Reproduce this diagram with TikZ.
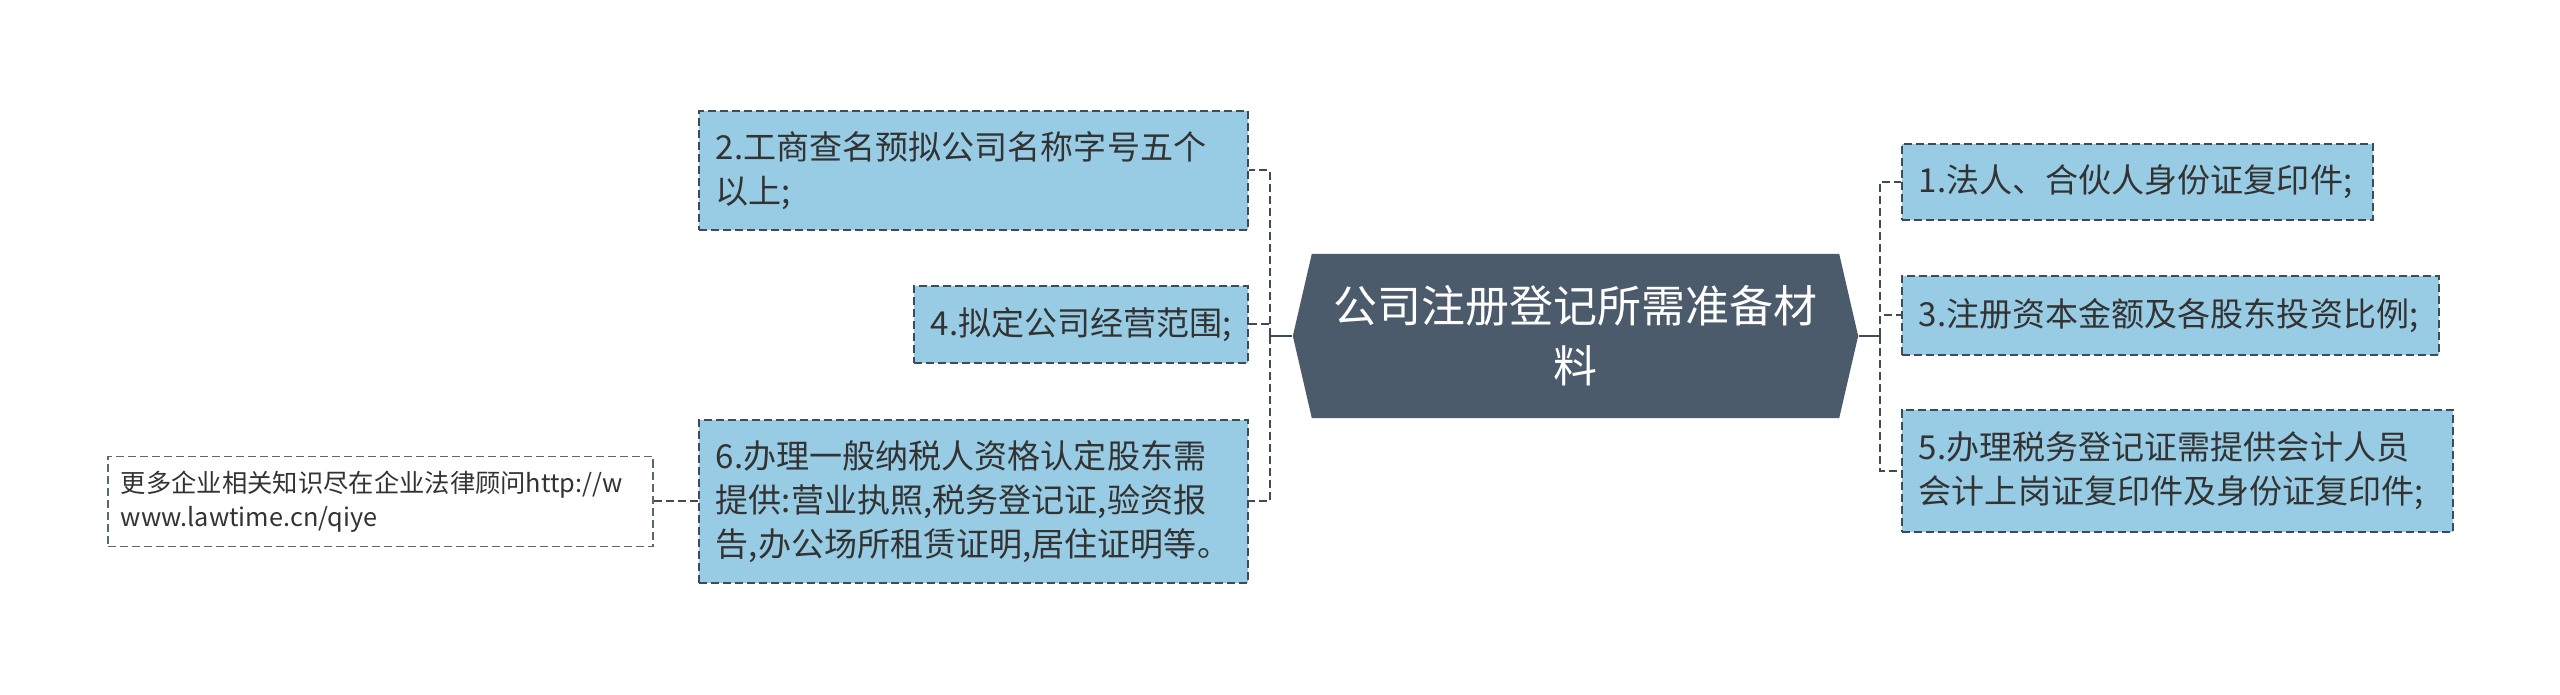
\documentclass[tikz,border=0pt]{standalone}
\usepackage{fontspec}
\setmainfont{Noto Sans CJK SC}
\usetikzlibrary{shapes.symbols}
\definecolor{topicblue}{HTML}{98CCE4}
\definecolor{rootgray}{HTML}{4B5B6B}
\definecolor{edgegray}{HTML}{3F4C58}
\definecolor{txtgray}{HTML}{333333}

\tikzset{every picture/.style={line width=0.02cm}}

\begin{document}
\begin{tikzpicture}[x=0.01cm,y=-0.01cm,
    topic/.style={draw=edgegray,fill=topicblue,dash pattern=on 0.08cm off 0.04cm,
      text=txtgray,align=left,inner xsep=0.17cm,inner ysep=0pt,
      font=\fontsize{9.4}{12.6}\selectfont},
    hint/.style={draw=edgegray!85,line width=0.015cm,dash pattern=on 0.08cm off 0.04cm,
      text=txtgray,align=left,inner xsep=0.13cm,inner ysep=0pt,
      font=\fontsize{7.2}{9.8}\selectfont},
    rootbox/.style={signal,signal to=west and east,signal pointer angle=154,
      fill=rootgray,text=white,align=center,inner sep=0pt,
      font=\fontsize{12.5}{17}\selectfont},
    rootline/.style={draw=edgegray},
    branch/.style={draw=edgegray,dash pattern=on 0.08cm off 0.04cm}]
    \useasboundingbox (0,0) rectangle (2560,695);

    \node[rootbox,minimum width=5.65cm,minimum height=1.64cm] (root) at (1575.5,336)
        {公司注册登记所需准备材\\料};

    \node[topic,minimum height=1.19cm,text width=5.15cm] (law2) at (973.5,170.5)
        {2.工商查名预拟公司名称字号五个\\以上;};
    \node[topic,minimum height=0.77cm,text width=3.00cm] (law4) at (1081,324.5)
        {4.拟定公司经营范围;};
    \node[topic,minimum height=1.63cm,text width=5.15cm] (law6) at (973.5,501.5)
        {6.办理一般纳税人资格认定股东需\\提供:营业执照,税务登记证,验资报\\告,办公场所租赁证明,居住证明等。};
    \node[hint,minimum height=0.90cm,text width=5.19cm] (more) at (380.5,501.5)
        {更多企业相关知识尽在企业法律顾问http://w\\www.lawtime.cn/qiye};

    \node[topic,minimum height=0.76cm,text width=4.37cm] (law1) at (2137.5,182)
        {1.法人、合伙人身份证复印件;};
    \node[topic,minimum height=0.79cm,text width=5.03cm] (law3) at (2170.5,315.5)
        {3.注册资本金额及各股东投资比例;};
    \node[topic,minimum height=1.22cm,text width=5.17cm] (law5) at (2177.5,471)
        {5.办理税务登记证需提供会计人员\\会计上岗证复印件及身份证复印件;};

    \draw[rootline] (root.west) -- ++(-22,0) coordinate (lhub);
    \foreach \t in {law2,law4,law6}
        \draw[branch] (lhub) |- (\t.east);
    \draw[rootline] (root.east) -- ++(21,0) coordinate (rhub);
    \foreach \t in {law1,law3,law5}
        \draw[branch] (rhub) |- (\t.west);
    \draw[branch] (more.east) -- (law6.west);
\end{tikzpicture}
\end{document}
